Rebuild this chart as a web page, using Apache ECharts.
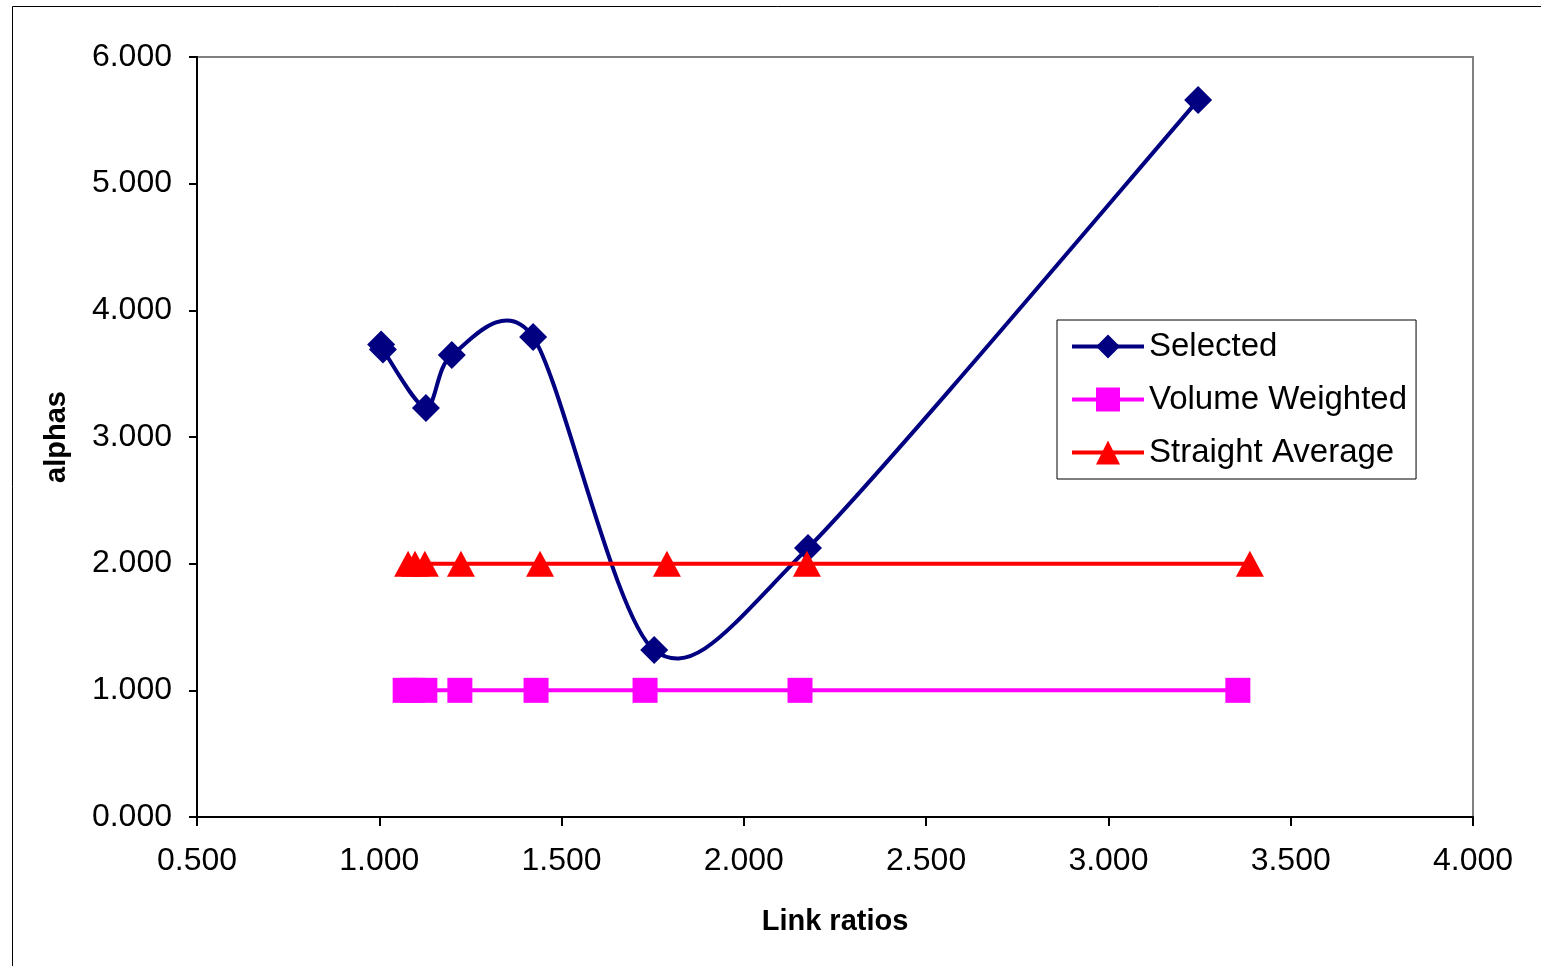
<!DOCTYPE html>
<html>
<head>
<meta charset="utf-8">
<script src="https://cdn.jsdelivr.net/npm/echarts@6/dist/echarts.min.js"></script>
<style>
html,body{margin:0;padding:0;background:#fff;}
#chart{width:1541px;height:966px;}
</style>
</head>
<body>
<div id="chart"></div>
<script>
// Data
const selectedX = [1.005, 1.010, 1.128, 1.199, 1.422, 1.754, 2.176, 3.246];
const selectedY = [3.730, 3.690, 3.229, 3.647, 3.789, 1.318, 2.124, 5.660];
const volumeX = [1.071, 1.092, 1.125, 1.221, 1.430, 1.729, 2.154, 3.355];
const volumeY = [1.000, 1.000, 1.000, 1.000, 1.000, 1.000, 1.000, 1.000];
const straightX = [1.079, 1.098, 1.125, 1.224, 1.441, 1.789, 2.173, 3.388];
const straightY = [2.000, 2.000, 2.000, 2.000, 2.000, 2.000, 2.000, 2.000];
const seriesNames = ['Selected', 'Volume Weighted', 'Straight Average'];
const xAxisName = 'Link ratios';
const yAxisName = 'alphas';

function pairs(xs, ys) { return xs.map((x, i) => [x, ys[i]]); }

const selectedData = pairs(selectedX, selectedY);
const font = 'Liberation Sans, Arial, sans-serif';

// Spreadsheet-style smoothed curve (Catmull-Rom Bezier) drawn through the axis scales
function renderCurve(params, api) {
  if (params.dataIndex !== 0) return null;
  const pts = selectedData.map(d => api.coord(d));
  const n = pts.length;
  const k = 1 / 7;
  const P = i => pts[Math.max(0, Math.min(n - 1, i))];
  let d = 'M' + pts[0][0] + ' ' + pts[0][1];
  for (let i = 0; i < n - 1; i++) {
    const p0 = P(i - 1), p1 = P(i), p2 = P(i + 1), p3 = P(i + 2);
    const c1 = [p1[0] + (p2[0] - p0[0]) * k, p1[1] + (p2[1] - p0[1]) * k];
    const c2 = [p2[0] - (p3[0] - p1[0]) * k, p2[1] - (p3[1] - p1[1]) * k];
    d += ' C' + c1[0] + ' ' + c1[1] + ' ' + c2[0] + ' ' + c2[1] + ' ' + p2[0] + ' ' + p2[1];
  }
  return {
    type: 'path',
    shape: {pathData: d},
    style: {fill: 'none', stroke: '#000080', lineWidth: 4, lineJoin: 'round'}
  };
}

const chart = echarts.init(document.getElementById('chart'), null, {renderer: 'canvas'});
chart.setOption({
  backgroundColor: '#fff',
  animation: false,
  graphic: [{
    type: 'rect', left: 10, top: 4, shape: {x: 0, y: 0, width: 1560, height: 1000},
    style: {fill: 'none', stroke: '#000', lineWidth: 1}, z: -1, silent: true
  }],
  grid: {
    left: 197, right: 68, top: 57, bottom: 149,
    show: true, borderColor: '#808080', borderWidth: 2, backgroundColor: '#fff'
  },
  legend: {
    orient: 'vertical', left: 1057, top: 320,
    backgroundColor: '#fff', borderColor: '#000', borderWidth: 1,
    padding: [10, 9, 10, 13],
    itemWidth: 72, itemHeight: 30, itemGap: 20,
    lineStyle: {width: 4, opacity: 1},
    textStyle: {fontFamily: font, fontSize: 33, color: '#000'},
    data: seriesNames
  },
  xAxis: {
    type: 'value', min: 0.5, max: 4, interval: 0.5,
    name: xAxisName, nameLocation: 'middle', nameGap: 90,
    nameTextStyle: {fontFamily: font, fontSize: 29, fontWeight: 'bold', color: '#000'},
    axisLine: {show: true, onZero: false, lineStyle: {color: '#000', width: 2}},
    axisTick: {show: true, inside: false, length: 9, lineStyle: {color: '#000', width: 2}},
    axisLabel: {fontFamily: font, fontSize: 32, color: '#000', margin: 28,
      formatter: v => v.toFixed(3)},
    splitLine: {show: false}
  },
  yAxis: {
    type: 'value', min: 0, max: 6, interval: 1,
    name: yAxisName, nameLocation: 'middle', nameGap: 126, nameRotate: 90,
    nameTextStyle: {fontFamily: font, fontSize: 29, fontWeight: 'bold', color: '#000'},
    axisLine: {show: true, onZero: false, lineStyle: {color: '#000', width: 2}},
    axisTick: {show: true, inside: false, length: 8, lineStyle: {color: '#000', width: 2}},
    axisLabel: {fontFamily: font, fontSize: 32, color: '#000', margin: 25,
      formatter: v => v.toFixed(3)},
    splitLine: {show: false}
  },
  series: [
    {
      name: 'SelectedCurve', type: 'custom', data: selectedData,
      encode: {x: 0, y: 1}, renderItem: renderCurve, z: 1, silent: true
    },
    {
      name: seriesNames[0], type: 'line', data: selectedData,
      symbol: 'diamond', symbolSize: 28, z: 2,
      lineStyle: {color: '#000080', width: 4, opacity: 0},
      itemStyle: {color: '#000080'}
    },
    {
      name: seriesNames[1], type: 'line', data: pairs(volumeX, volumeY),
      symbol: 'rect', symbolSize: 25, z: 3,
      lineStyle: {color: '#FF00FF', width: 4},
      itemStyle: {color: '#FF00FF'}
    },
    {
      name: seriesNames[2], type: 'line', data: pairs(straightX, straightY),
      symbol: 'triangle', symbolSize: [28, 26], z: 4,
      lineStyle: {color: '#FF0000', width: 4},
      itemStyle: {color: '#FF0000'}
    }
  ]
});
</script>
</body>
</html>
